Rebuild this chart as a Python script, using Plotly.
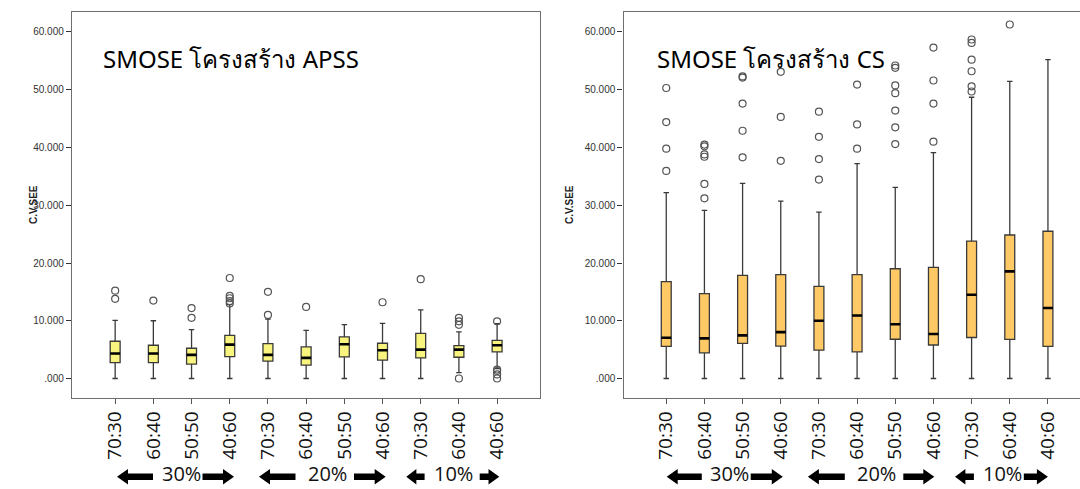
import plotly.graph_objects as go

# ---- data -------------------------------------------------------------
categories = ["70:30", "60:40", "50:50", "40:60",
              "70:30", "60:40", "50:50", "40:60",
              "70:30", "60:40", "40:60"]

# SMOSE, APSS structure
apss_low = [0.0, 0.0, 0.0, 0.0, 0.0, 0.0, 0.0, 0.0, 0.0, 1.0, 1.7]
apss_q1 = [2.76, 2.76, 2.48, 3.80, 3.00, 2.30, 3.74, 3.17, 3.57, 3.68, 4.60]
apss_med = [4.32, 4.32, 4.09, 5.87, 4.09, 3.57, 5.93, 4.89, 5.00, 5.00, 5.76]
apss_q3 = [6.45, 5.76, 5.24, 7.48, 6.05, 5.47, 7.20, 6.10, 7.83, 5.70, 6.60]
apss_high = [10.07, 10.0, 8.46, 12.8, 10.3, 8.35, 9.33, 9.56, 11.9, 8.06, 9.5]
apss_out = [
    [15.2, 13.8],
    [13.5],
    [12.2, 10.5],
    [17.4, 14.3, 13.9, 13.4, 13.0],
    [15.0, 11.0],
    [12.4],
    [],
    [13.2],
    [17.2],
    [10.5, 9.9, 9.3, 0.0],
    [9.9, 1.55, 1.3, 0.7, 0.0],
]

# SMOSE, CS structure
cs_low = [0.0] * 11
cs_q1 = [5.55, 4.45, 6.07, 5.60, 4.90, 4.60, 6.80, 5.80, 7.10, 6.76, 5.55]
cs_med = [7.05, 6.94, 7.46, 8.03, 10.0, 10.9, 9.40, 7.70, 14.5, 18.55, 12.2]
cs_q3 = [16.76, 14.7, 17.86, 18.0, 15.95, 18.0, 19.0, 19.25, 23.8, 24.85, 25.5]
cs_high = [32.2, 29.1, 33.8, 30.7, 28.8, 37.2, 33.1, 39.1, 48.7, 51.45, 55.2]
cs_out = [
    [50.3, 44.4, 39.8, 35.95],
    [40.5, 40.2, 38.8, 38.4, 33.7, 31.2],
    [52.3, 52.1, 47.6, 42.9, 38.3],
    [53.1, 45.3, 37.7],
    [46.2, 41.85, 38.0, 34.45],
    [50.9, 44.0, 39.8],
    [54.2, 53.8, 50.75, 49.4, 46.4, 43.5, 40.6],
    [57.3, 51.6, 47.6, 41.0],
    [58.7, 58.1, 55.2, 53.2, 50.6, 49.7],
    [61.3],
    [],
]

y_tick_vals = [0, 10, 20, 30, 40, 50, 60]
y_tick_text = [".000", "10.000", "20.000", "30.000", "40.000", "50.000", "60.000"]

groups = ["30%", "20%", "10%"]

# ---- helpers ------------------------------------------------------------
W, H = 1080, 489
BOX_W = 0.26


def px(x):
    return x / W


def py(y):
    return 1 - y / H


positions = list(range(len(categories)))

fig = go.Figure()


def add_panel(low, q1, med, q3, high, outs, fill, xa, ya):
    fig.add_trace(go.Box(
        x=positions, lowerfence=low, q1=q1, median=med, q3=q3, upperfence=high,
        width=BOX_W, whiskerwidth=0.55, fillcolor=fill,
        line=dict(color="#3a3a3a", width=1.3),
        boxpoints=False, showlegend=False, xaxis=xa, yaxis=ya,
    ))
    # thicker black median bars
    mx, my = [], []
    for p, m in zip(positions, med):
        mx += [p - BOX_W / 2, p + BOX_W / 2, None]
        my += [m, m, None]
    fig.add_trace(go.Scatter(
        x=mx, y=my, mode="lines", line=dict(color="black", width=2.6),
        showlegend=False, hoverinfo="skip", xaxis=xa, yaxis=ya,
    ))
    ox, oy = [], []
    for p, vals in zip(positions, outs):
        for v in vals:
            ox.append(p)
            oy.append(v)
    fig.add_trace(go.Scatter(
        x=ox, y=oy, mode="markers",
        marker=dict(symbol="circle-open", size=7, color="#555555",
                    line=dict(width=1.2, color="#555555")),
        showlegend=False, xaxis=xa, yaxis=ya,
    ))


add_panel(apss_low, apss_q1, apss_med, apss_q3, apss_high, apss_out,
          "#F8F47E", "x", "y")
add_panel(cs_low, cs_q1, cs_med, cs_q3, cs_high, cs_out,
          "#FFC965", "x2", "y2")

# ---- axes ---------------------------------------------------------------
y_dom = [py(397.5), py(12.3)]
y_rng = [-3.29, 63.41]

xcommon = dict(
    tickmode="array", tickvals=positions, ticktext=categories,
    tickangle=-90, ticks="outside", ticklen=5, tickcolor="#555",
    tickfont=dict(family="Open Sans", size=19, color="#111"),
    showline=True, linecolor="#6e6e6e", linewidth=1.4,
    showgrid=False, zeroline=False, fixedrange=True,
)
ycommon = dict(
    tickmode="array", tickvals=y_tick_vals, ticktext=y_tick_text,
    ticks="outside", ticklen=5, tickcolor="#333",
    tickfont=dict(family="Liberation Sans", size=10, color="#333"),
    showline=True, linecolor="#6e6e6e", linewidth=1.4,
    showgrid=False, zeroline=False, range=y_rng, domain=y_dom,
)

fig.update_layout(
    width=W, height=H, margin=dict(l=0, r=0, t=0, b=0),
    paper_bgcolor="white", plot_bgcolor="white",
    xaxis=dict(xcommon, domain=[px(72), px(539.5)], range=[-1.13, 11.11],
               mirror=True, anchor="y"),
    yaxis=dict(ycommon, mirror=True, anchor="x"),
    xaxis2=dict(xcommon, domain=[px(623.5), 1.0], range=[-1.12, 10.84],
                mirror=True, anchor="y2"),
    yaxis2=dict(ycommon, mirror=False, anchor="x2"),
)

# ---- titles inside panels ----------------------------------------------
title_font = dict(family="Noto Sans, Tahoma, sans-serif", size=24, color="black")
fig.add_annotation(text="SMOSE โครงสร้าง APSS", x=px(100.5), y=py(58),
                   xref="paper", yref="paper", xanchor="left", yanchor="middle",
                   showarrow=False, font=title_font)
fig.add_annotation(text="SMOSE โครงสร้าง CS", x=px(654.5), y=py(58),
                   xref="paper", yref="paper", xanchor="left", yanchor="middle",
                   showarrow=False, font=title_font)

# y-axis titles
for xpos in (25.5, 569):
    fig.add_annotation(text="<b>C.V.SEE</b>", x=px(xpos), y=py(205),
                       xref="paper", yref="paper", textangle=-90,
                       showarrow=False,
                       font=dict(family="Liberation Sans", size=10, color="#222"))

# ---- group markers: ◄ 30% ► etc. -----------------------------------------
ARROW_Y = 476.7


def arrow_path(x0, x1, pointing_left):
    hl = min(11.0, (x1 - x0) * 0.55)
    hh, st = 7.8, 3.2
    c = ARROW_Y
    if pointing_left:
        pts = [(x0, c), (x0 + hl, c - hh), (x0 + hl, c - st), (x1, c - st),
               (x1, c + st), (x0 + hl, c + st), (x0 + hl, c + hh)]
    else:
        pts = [(x1, c), (x1 - hl, c - hh), (x1 - hl, c - st), (x0, c - st),
               (x0, c + st), (x1 - hl, c + st), (x1 - hl, c + hh)]
    d = "M " + " L ".join(f"{px(a):.5f},{py(b):.5f}" for a, b in pts) + " Z"
    return d


group_layout = [
    # (left arrow x0, x1), text centre, (right arrow x0, x1)
    [((117, 153), 181, (202.5, 234)),
     ((259, 295.5), 327, (354, 385.7)),
     ((406.3, 424.6), 453.5, (479.7, 499.3))],
    [((666.7, 701.8), 729, (750.7, 782.8)),
     ((807.9, 844.8), 876, (903.3, 934.3)),
     ((955, 973.9), 1002, (1023.8, 1047.9))],
]

for panel in group_layout:
    for label, (la, tc, ra) in zip(groups, panel):
        fig.add_shape(type="path", path=arrow_path(la[0], la[1], True),
                      xref="paper", yref="paper", fillcolor="black",
                      line=dict(width=0))
        fig.add_shape(type="path", path=arrow_path(ra[0], ra[1], False),
                      xref="paper", yref="paper", fillcolor="black",
                      line=dict(width=0))
        fig.add_annotation(text=label, x=px(tc), y=py(487.5),
                           xref="paper", yref="paper", showarrow=False,
                           xanchor="center", yanchor="bottom",
                           font=dict(family="Open Sans", size=20, color="#111"),
                           borderpad=0)

fig.write_html("out.html")
